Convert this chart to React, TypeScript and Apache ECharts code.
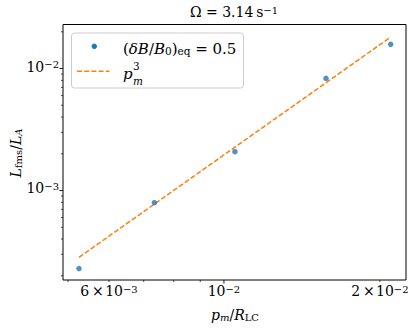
import React, { useEffect, useRef } from "react";
import * as echarts from "echarts";

// ---- data ----
const pmValues = [0.00525, 0.00734, 0.0105, 0.01574, 0.02098];
const lfmsValues = [2.29e-4, 7.94e-4, 2.08e-3, 8.3e-3, 1.58e-2];
const fitX = [0.00525, 0.02098];
const fitY = [2.83e-4, 1.81e-2];

const xRange = [0.00489, 0.02246];
const yRange = [1.846e-4, 2.295e-2];

const xMajorTicks = [0.01];
const xMinorTicks = [0.005, 0.006, 0.007, 0.008, 0.009, 0.02];
const xLabelValues = [0.006, 0.01, 0.02];
const xLabelMantissa = ["6", "", "2"];
const xLabelExponent = ["−3", "−2", "−2"];

const yMajorTicks = [0.001, 0.01];
const yMinorTicks = [
  2e-4, 3e-4, 4e-4, 5e-4, 6e-4, 7e-4, 8e-4, 9e-4,
  2e-3, 3e-3, 4e-3, 5e-3, 6e-3, 7e-3, 8e-3, 9e-3, 2e-2,
];
const yLabelValues = [0.001, 0.01];
const yLabelExponent = ["−3", "−2"];

const BLUE = "#1f77b4";
const ORANGE = "#ff7f0e";
const FAM = "DejaVu Serif";
const BIG = 14;
const SMALL = 10;

function tok(size: number, italic: boolean, extra: any) {
  return {
    fontFamily: FAM,
    fontSize: size,
    fontStyle: italic ? "italic" : "normal",
    fill: "#000",
    lineHeight: size,
    ...extra,
  };
}

const richBase: any = {
  n: tok(BIG, false, { padding: [5, 0, 0, 0], verticalAlign: "bottom" }),
  i: tok(BIG, true, { padding: [5, 0, 0, 0], verticalAlign: "bottom" }),
  sup: tok(SMALL, false, { verticalAlign: "top" }),
};

const richSub: any = {
  n: tok(BIG, false, { verticalAlign: "top" }),
  i: tok(BIG, true, { verticalAlign: "top" }),
  sub: tok(SMALL, false, { padding: [7, 0, 0, 0], verticalAlign: "bottom" }),
  isub: tok(SMALL, true, { padding: [7, 0, 0, 0], verticalAlign: "bottom" }),
};

const LEG = 15;
const richLegend: any = {
  n: tok(LEG, false, { verticalAlign: "top" }),
  i: tok(LEG, true, { verticalAlign: "top" }),
  sub: tok(10.5, false, { padding: [8, 0, 0, 0], verticalAlign: "bottom" }),
};

function xLabelText(i: number) {
  const m = xLabelMantissa[i];
  return (m ? `{n|${m}\u2009×\u200a}` : "") + `{n|10}{sup|${xLabelExponent[i]}}`;
}

export default function App() {
  const ref = useRef<HTMLDivElement>(null);
  useEffect(() => {
    if (!ref.current) return;
    const chart = echarts.init(ref.current, null, { renderer: "svg" });

    const xTickData: number[][] = [
      ...xMajorTicks.map((v) => [v, yRange[0], 1, -1]),
      ...xMinorTicks.map((v) => [v, yRange[0], 0, -1]),
    ];
    xLabelValues.forEach((v, i) => xTickData.push([v, yRange[0], -1, i]));
    const yTickData: number[][] = [
      ...yMajorTicks.map((v) => [xRange[0], v, 1, -1]),
      ...yMinorTicks.map((v) => [xRange[0], v, 0, -1]),
    ];
    yLabelValues.forEach((v, i) => yTickData.push([xRange[0], v, -1, i]));

    chart.setOption({
      animation: false,
      textStyle: { fontFamily: FAM },
      grid: {
        left: 63,
        right: 9,
        top: 24.5,
        bottom: 49,
        show: true,
        borderColor: "#000",
        borderWidth: 1,
        backgroundColor: "transparent",
      },
      xAxis: {
        type: "log",
        logBase: 10,
        min: xRange[0],
        max: xRange[1],
        axisLine: { show: false },
        axisTick: { show: false },
        axisLabel: { show: false },
        splitLine: { show: false },
      },
      yAxis: {
        type: "log",
        logBase: 10,
        min: yRange[0],
        max: yRange[1],
        axisLine: { show: false },
        axisTick: { show: false },
        axisLabel: { show: false },
        splitLine: { show: false },
      },
      series: [
        {
          type: "scatter",
          data: pmValues.map((x, i) => [x, lfmsValues[i]]),
          symbol: "circle",
          symbolSize: 5.5,
          itemStyle: { color: BLUE },
          z: 3,
        },
        {
          type: "line",
          data: fitX.map((x, i) => [x, fitY[i]]),
          symbol: "none",
          lineStyle: { color: ORANGE, width: 1.5, type: [5, 2.2] },
          z: 2,
        },
        {
          type: "custom",
          data: xTickData,
          silent: true,
          renderItem: (params: any, api: any) => {
            const cs = params.coordSys;
            const p = api.coord([api.value(0), api.value(1)]);
            const bottom = cs.y + cs.height;
            const kind = api.value(2);
            const li = api.value(3);
            if (kind === -1) {
              return {
                type: "text",
                style: {
                  legacy: false,
                  text: xLabelText(li),
                  fontFamily: FAM,
                  fontSize: BIG,
                  rich: richBase,
                  x: p[0],
                  y: bottom + 4,
                  align: "center",
                  verticalAlign: "top",
                },
              };
            }
            const len = kind === 1 ? 3.5 : 2;
            return {
              type: "line",
              shape: { x1: p[0], y1: bottom, x2: p[0], y2: bottom + len },
              style: { stroke: "#000", lineWidth: kind === 1 ? 0.9 : 0.7 },
            };
          },
        },
        {
          type: "custom",
          data: yTickData,
          silent: true,
          renderItem: (params: any, api: any) => {
            const cs = params.coordSys;
            const p = api.coord([api.value(0), api.value(1)]);
            const left = cs.x;
            const kind = api.value(2);
            const li = api.value(3);
            if (kind === -1) {
              return {
                type: "text",
                style: {
                  legacy: false,
                  text: `{n|10}{sup|${yLabelExponent[li]}}`,
                  fontFamily: FAM,
                  fontSize: BIG,
                  rich: richBase,
                  x: left - 4,
                  y: p[1] - 2,
                  align: "right",
                  verticalAlign: "middle",
                },
              };
            }
            const len = kind === 1 ? 3.5 : 2;
            return {
              type: "line",
              shape: { x1: left, y1: p[1], x2: left - len, y2: p[1] },
              style: { stroke: "#000", lineWidth: kind === 1 ? 0.9 : 0.7 },
            };
          },
        },
      ],
      graphic: [
        {
          type: "text",
          style: {
            legacy: false,
            text: "{n|Ω = 3.14\u2009s}{sup|−1}",
            fontFamily: FAM,
            fontSize: BIG,
            rich: richBase,
            x: 234,
            y: 12,
            align: "center",
            verticalAlign: "middle",
          },
        },
        {
          type: "text",
          style: {
            legacy: false,
            text: "{i|p}{isub|m}{n|/}{i|R}{sub|LC}",
            fontFamily: FAM,
            fontSize: BIG,
            rich: richSub,
            x: 235,
            y: 315,
            align: "center",
            verticalAlign: "middle",
          },
        },
        {
          type: "text",
          rotation: Math.PI / 2,
          x: 16,
          y: 153,
          style: {
            legacy: false,
            text: "{i|L}{sub|fms}{n|/}{i|L}{isub|A}",
            fontFamily: FAM,
            fontSize: BIG,
            rich: richSub,
            x: 0,
            y: 0,
            align: "center",
            verticalAlign: "middle",
          },
        },
        // legend
        {
          type: "rect",
          shape: { x: 71.5, y: 33, width: 172, height: 55, r: 3 },
          style: { fill: "rgba(255,255,255,0.8)", stroke: "#cccccc", lineWidth: 1 },
          z: 10,
        },
        {
          type: "circle",
          shape: { cx: 94.3, cy: 46.3, r: 2.7 },
          style: { fill: BLUE },
          z: 11,
        },
        {
          type: "line",
          shape: { x1: 77, y1: 71.3, x2: 109.5, y2: 71.3 },
          style: { stroke: ORANGE, lineWidth: 1.5, lineDash: [5, 2.2] },
          z: 11,
        },
        {
          type: "text",
          z: 11,
          style: {
            legacy: false,
            text: "{n|(}{i|δB}{n|/}{i|B}{sub|0}{n|)}{sub|eq}{n| = 0.5}",
            fontFamily: FAM,
            fontSize: LEG,
            rich: richLegend,
            x: 123,
            y: 49,
            align: "left",
            verticalAlign: "middle",
          },
        },
        {
          type: "text",
          z: 11,
          style: {
            legacy: false,
            text: "p",
            fontFamily: FAM,
            fontSize: LEG,
            fontStyle: "italic",
            fill: "#000",
            x: 123,
            y: 74,
            align: "left",
            verticalAlign: "middle",
          },
        },
        {
          type: "text",
          z: 11,
          style: {
            legacy: false,
            text: "3",
            fontFamily: FAM,
            fontSize: 10.5,
            fill: "#000",
            x: 133,
            y: 66,
            align: "left",
            verticalAlign: "middle",
          },
        },
        {
          type: "text",
          z: 11,
          style: {
            legacy: false,
            text: "m",
            fontFamily: FAM,
            fontSize: 10.5,
            fontStyle: "italic",
            fill: "#000",
            x: 133,
            y: 80.5,
            align: "left",
            verticalAlign: "middle",
          },
        },
      ],
    });
    return () => chart.dispose();
  }, []);
  return (
    <div
      ref={ref}
      style={{ position: "fixed", left: 0, top: 0, width: 415, height: 329, background: "#fff" }}
    />
  );
}
